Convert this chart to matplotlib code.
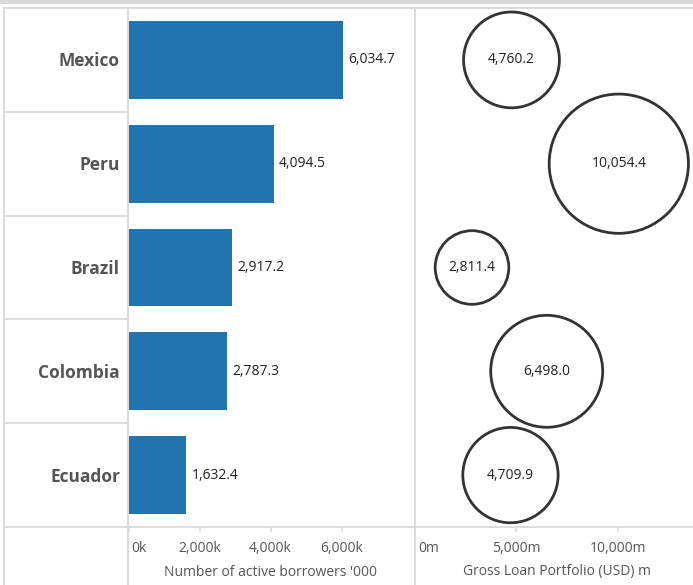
import matplotlib
matplotlib.use("Agg")
import matplotlib.pyplot as plt
from matplotlib.lines import Line2D
from matplotlib.patches import Rectangle
from matplotlib.transforms import ScaledTranslation

plt.rcParams['font.family'] = ['Open Sans', 'DejaVu Sans']

# ---- data ----
countries = ["Mexico", "Peru", "Brazil", "Colombia", "Ecuador"]
borrowers = [6034.7, 4094.5, 2917.2, 2787.3, 1632.4]          # thousands
gross_loan = [4760.2, 10054.4, 2811.4, 6498.0, 4709.9]        # USD m
bar_ticks = [0, 2000, 4000, 6000]
bar_tick_labels = ["0k", "2,000k", "4,000k", "6,000k"]
bub_ticks = [0, 5000, 10000]
bub_tick_labels = ["0m", "5,000m", "10,000m"]
bar_title = "Number of active borrowers '000"
bub_title = "Gross Loan Portfolio (USD) m"

W, H = 693, 585
fig = plt.figure(figsize=(W / 100, H / 100), dpi=100)

def fx(px):
    return px / W

def fy(py):
    return 1 - py / H

GRID = "#d9d9d9"
TXT = "#555555"
BAR = "#2274b1"

top_px, bot_px = 8, 527
bar_l, bar_r = 128.5, 415
bub_l, bub_r = 415, 693

# top gray band
fig.patches.append(Rectangle((0, fy(4)), 1, 4 / H, transform=fig.transFigure,
                             facecolor="#d9d9d9", edgecolor="none", zorder=0))

# grid lines
lw = 1.3
lines = [
    ((4, W), (top_px, top_px)),
    ((4, W), (bot_px, bot_px)),
    ((4, 4), (top_px, H)),
    ((128, 128), (top_px, H)),
    ((415, 415), (top_px, H)),
]
row_h = (bot_px - top_px) / len(countries)
for i in range(1, len(countries)):
    y = top_px + i * row_h
    lines.append(((4, 128), (y, y)))
for (x0, x1), (y0, y1) in lines:
    fig.add_artist(Line2D([fx(x0), fx(x1)], [fy(y0), fy(y1)], transform=fig.transFigure,
                          color=GRID, lw=lw, zorder=0.5))

# country labels
for i, c in enumerate(countries):
    y = top_px + (i + 0.5) * row_h + 1.5
    fig.text(fx(120), fy(y), c, ha="right", va="center", fontsize=12.5,
             fontweight="bold", color=TXT)

ypos = list(range(len(countries)))

def style_axis(ax):
    for s in ax.spines.values():
        s.set_visible(False)
    ax.set_facecolor("none")
    ax.set_yticks([])
    ax.set_ylim(len(countries) - 0.5, -0.5)
    ax.tick_params(axis="x", length=3.8, width=1.1, color=GRID, pad=6.5,
                   labelsize=10, labelcolor=TXT)

def shift_first_label(ax, px):
    lab = ax.xaxis.get_major_ticks()[0].label1
    lab.set_ha("left")
    lab.set_transform(lab.get_transform() + ScaledTranslation(px / 100, 0, fig.dpi_scale_trans))

# bar panel
ax1 = fig.add_axes([fx(bar_l), fy(bot_px), fx(bar_r) - fx(bar_l), fy(top_px) - fy(bot_px)])
style_axis(ax1)
ax1.set_xlim(0, (bar_r - bar_l) / 71.0 * 2000)
ax1.barh(ypos, borrowers, height=0.75, color=BAR, zorder=2)
for yv, v in zip(ypos, borrowers):
    ax1.annotate(f"{v:,.1f}", (v, yv), xytext=(3.8, 0), textcoords="offset points",
                 ha="left", va="center", fontsize=10, color="#222222")
ax1.set_xticks(bar_ticks, bar_tick_labels)
shift_first_label(ax1, 2.5)
ax1.text(0.497, -(572 - bot_px) / (bot_px - top_px), bar_title, transform=ax1.transAxes,
         ha="center", va="center", fontsize=10, color=TXT)

# bubble panel
ax2 = fig.add_axes([fx(bub_l), fy(bot_px), fx(bub_r) - fx(bub_l), fy(top_px) - fy(bot_px)])
style_axis(ax2)
ax2.set_xlim(0, (bub_r - bub_l) / 101.35 * 5000)
BUBBLE_SCALE = 1.0  # marker area (pt^2) per USD m
ax2.scatter(gross_loan, ypos, s=[v * BUBBLE_SCALE for v in gross_loan],
            facecolor="white", edgecolor="#333333", linewidth=2.0, zorder=2, clip_on=False)
for yv, v in zip(ypos, gross_loan):
    ax2.text(v, yv, f"{v:,.1f}", ha="center", va="center", fontsize=10,
             color="#222222", zorder=3)
ax2.set_xticks(bub_ticks, bub_tick_labels)
shift_first_label(ax2, 3.5)
ax2.text(0.51, -(572 - bot_px) / (bot_px - top_px), bub_title, transform=ax2.transAxes,
         ha="center", va="center", fontsize=10, color=TXT)

fig.savefig("out.png", dpi=100)
